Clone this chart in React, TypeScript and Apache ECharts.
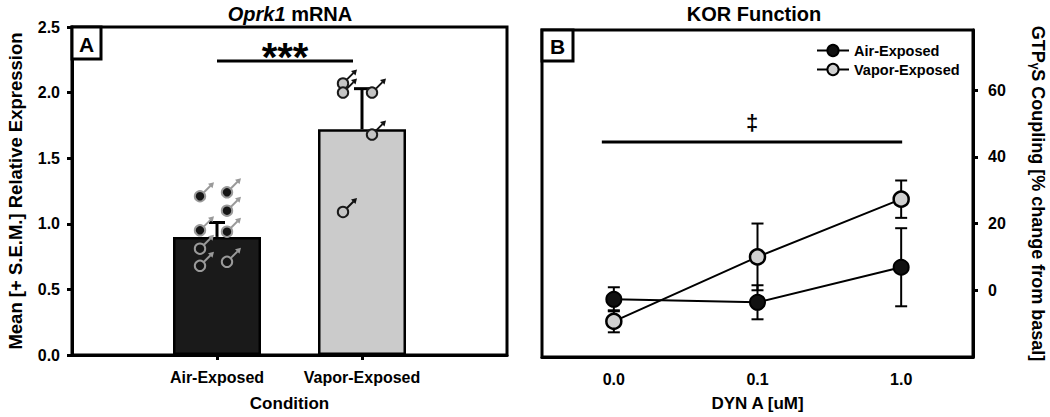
import React, { useEffect, useRef } from 'react';
import * as echarts from 'echarts';

// ---------- Panel A data ----------
const conditions = ['', 'Air-Exposed', 'Vapor-Exposed', ''];
const meanExpression = [null, 0.9, 1.72, null];
const semExpression = [null, 0.11, 0.31, null];
const airIndividual = [1.21, 1.24, 1.1, 0.95, 0.94, 0.81, 0.68, 0.71];
const vaporIndividual = [2.07, 2.0, 2.0, 1.68, 1.09];
const yTicksA = [0, 0.5, 1.0, 1.5, 2.0, 2.5];
const sigA = { from: 1, to: 2, y: 2.24, label: '***' };

// ---------- Panel B data ----------
const doses = ['0.0', '0.1', '1.0'];
const airCoupling = [-2.7, -3.6, 6.9];
const airSem = [3.6, 5.1, 11.7];
const vaporCoupling = [-9.3, 10.0, 27.3];
const vaporSem = [3.3, 10.0, 5.6];
const yTicksB = [0, 20, 40, 60];
const sigB = { from: 0, to: 2, y: 44.4, label: '\u2021' };

// ---------- layout (not data) ----------
const airJitter = [-17, 10, 10, -17, 10, -17, -17, 10];
const vaporJitter = [-19, -19, 10, 10, -19];
const FONT = 'Liberation Sans, Arial, sans-serif';

function maleSymbol(cx: number, cy: number, fill: string, stroke: string, arrow: string) {
  return {
    type: 'group',
    children: [
      { type: 'line', shape: { x1: cx + 4, y1: cy - 4, x2: cx + 10.5, y2: cy - 10.5 }, style: { stroke: arrow, lineWidth: 2 } },
      { type: 'polygon', shape: { points: [[cx + 14, cy - 14], [cx + 8, cy - 12.5], [cx + 12.5, cy - 8]] }, style: { fill: arrow } },
      { type: 'circle', shape: { cx, cy, r: 5.2 }, style: { fill, stroke, lineWidth: 2 } },
    ],
  };
}

export default function App() {
  const ref = useRef<HTMLDivElement>(null);
  useEffect(() => {
    if (!ref.current) return;
    const chart = echarts.init(ref.current, null, { renderer: 'svg' });

    const axisLineStyle = { color: '#000', width: 3 };
    const tickLabel = { color: '#000', fontSize: 16, fontWeight: 'bold' as const, fontFamily: FONT };
    const nameStyle = { color: '#000', fontSize: 17, fontWeight: 'bold' as const, fontFamily: FONT };
    const yNameStyle = { color: '#000', fontSize: 18.5, fontWeight: 'bold' as const, fontFamily: FONT };

    const errA = meanExpression
      .map((m, i) => (m == null ? null : [i, m, semExpression[i] as number]))
      .filter((d) => d) as number[][];
    const airPts = airIndividual.map((v, i) => [1, v, airJitter[i]]);
    const vapPts = vaporIndividual.map((v, i) => [2, v, vaporJitter[i]]);
    const errB = [
      ...airCoupling.map((m, i) => [i, m, airSem[i]]),
      ...vaporCoupling.map((m, i) => [i, m, vaporSem[i]]),
    ];

    const sigRender = (label: string, dx0: number, dx1: number, fontSize: number, textDy: number) => (params: any, api: any) => {
      const a = api.coord([api.value(0), api.value(2)]);
      const b = api.coord([api.value(1), api.value(2)]);
      const x1 = a[0] + dx0;
      const x2 = b[0] + dx1;
      return {
        type: 'group',
        children: [
          { type: 'line', shape: { x1, y1: a[1], x2, y2: b[1] }, style: { stroke: '#000', lineWidth: 3 } },
          {
            type: 'text',
            x: (x1 + x2) / 2,
            y: a[1] + textDy,
            style: {
              text: label,
              font: `bold ${fontSize}px ${FONT}`,
              fill: '#000',
              align: 'center',
              verticalAlign: 'middle',
              textAlign: 'center',
              textVerticalAlign: 'middle',
            },
          },
        ],
      };
    };

    const option: any = {
      animation: false,
      backgroundColor: '#fff',
      textStyle: { fontFamily: FONT },
      grid: [
        { left: 72, top: 27, width: 435, height: 329, show: true, borderColor: '#000', borderWidth: 3 },
        { left: 542, top: 30, width: 431, height: 328, show: true, borderColor: '#000', borderWidth: 3 },
      ],
      xAxis: [
        {
          gridIndex: 0,
          type: 'category',
          data: conditions,
          boundaryGap: false,
          axisLine: { onZero: false, lineStyle: axisLineStyle },
          axisTick: { inside: false, length: 5, lineStyle: { width: 3, color: '#000' }, interval: (i: number) => i === 1 || i === 2 },
          axisLabel: { ...tickLabel, margin: 14, interval: (i: number) => i === 1 || i === 2 },
          name: 'Condition',
          nameLocation: 'middle',
          nameGap: 40,
          nameTextStyle: nameStyle,
          splitLine: { show: false },
        },
        {
          gridIndex: 1,
          type: 'category',
          data: doses,
          boundaryGap: true,
          axisLine: { onZero: false, lineStyle: axisLineStyle },
          axisTick: { inside: false, length: 5, alignWithLabel: true, lineStyle: { width: 3, color: '#000' } },
          axisLabel: { ...tickLabel, margin: 14 },
          name: 'DYN A [uM]',
          nameLocation: 'middle',
          nameGap: 38,
          nameTextStyle: nameStyle,
          splitLine: { show: false },
        },
      ],
      yAxis: [
        {
          gridIndex: 0,
          type: 'value',
          min: 0,
          max: 2.5,
          interval: 0.5,
          axisLine: { show: true, lineStyle: axisLineStyle },
          axisTick: { show: true, inside: false, length: 5, lineStyle: { width: 3, color: '#000' }, customValues: yTicksA },
          axisLabel: { ...tickLabel, margin: 12, customValues: yTicksA, formatter: (v: number) => v.toFixed(1) },
          splitLine: { show: false },
          name: 'Mean [+ S.E.M.] Relative Expression',
          nameLocation: 'middle',
          nameRotate: 90,
          nameGap: 47,
          nameTextStyle: yNameStyle,
        },
        {
          gridIndex: 1,
          type: 'value',
          position: 'right',
          min: -20,
          max: 78,
          axisLine: { show: true, lineStyle: axisLineStyle },
          axisTick: { show: true, inside: false, length: 5, lineStyle: { width: 3, color: '#000' }, customValues: yTicksB },
          axisLabel: { ...tickLabel, margin: 15, customValues: yTicksB },
          splitLine: { show: false },
          name: '{a|GTP}{s|\u03b3}{a|S Coupling [% change from basal]}',
          nameLocation: 'middle',
          nameRotate: -90,
          nameGap: 56,
          nameTextStyle: {
            ...yNameStyle,
            rich: {
              a: { fontSize: 18, fontWeight: 'bold', fontFamily: FONT, color: '#000' },
              s: { fontSize: 12, fontWeight: 'bold', fontFamily: FONT, color: '#000', verticalAlign: 'bottom', padding: [6, 0, 0, 0] },
            },
          },
        },
      ],
      legend: {
        orient: 'vertical',
        left: 811,
        top: 38,
        itemWidth: 32,
        itemHeight: 14,
        itemGap: 4,
        data: ['Air-Exposed', 'Vapor-Exposed'],
        textStyle: { color: '#000', fontSize: 14.5, fontWeight: 'bold', fontFamily: FONT },
      },
      series: [
        {
          name: 'expression',
          type: 'bar',
          xAxisIndex: 0,
          yAxisIndex: 0,
          barWidth: 88,
          data: meanExpression.map((v, i) =>
            v == null
              ? null
              : {
                  value: v,
                  itemStyle: i === 1
                    ? { color: '#1a1a1a', borderColor: '#000', borderWidth: 2.5 }
                    : { color: '#cbcbcb', borderColor: '#000', borderWidth: 2.5 },
                }
          ),
          z: 2,
        },
        {
          name: 'errA',
          type: 'custom',
          xAxisIndex: 0,
          yAxisIndex: 0,
          z: 3,
          data: errA,
          renderItem: (params: any, api: any) => {
            const base = api.coord([api.value(0), api.value(1)]);
            const top = api.coord([api.value(0), api.value(1) + api.value(2)]);
            return {
              type: 'group',
              children: [
                { type: 'line', shape: { x1: base[0], y1: base[1], x2: top[0], y2: top[1] }, style: { stroke: '#000', lineWidth: 3 } },
                { type: 'line', shape: { x1: top[0] - 8, y1: top[1], x2: top[0] + 8, y2: top[1] }, style: { stroke: '#000', lineWidth: 3 } },
              ],
            };
          },
        },
        {
          name: 'airPts',
          type: 'custom',
          xAxisIndex: 0,
          yAxisIndex: 0,
          z: 4,
          data: airPts,
          renderItem: (params: any, api: any) => {
            const p = api.coord([api.value(0), api.value(1)]);
            return maleSymbol(p[0] + api.value(2), p[1], '#151515', '#9a9a9a', '#9a9a9a');
          },
        },
        {
          name: 'vapPts',
          type: 'custom',
          xAxisIndex: 0,
          yAxisIndex: 0,
          z: 4,
          data: vapPts,
          renderItem: (params: any, api: any) => {
            const p = api.coord([api.value(0), api.value(1)]);
            return maleSymbol(p[0] + api.value(2), p[1], '#c4c4c4', '#1a1a1a', '#111');
          },
        },
        {
          name: 'sigA',
          type: 'custom',
          xAxisIndex: 0,
          yAxisIndex: 0,
          z: 4,
          data: [[sigA.from, sigA.to, sigA.y]],
          renderItem: sigRender(sigA.label, 0, -9, 40, -4),
        },
        {
          name: 'errB',
          type: 'custom',
          xAxisIndex: 1,
          yAxisIndex: 1,
          z: 3,
          data: errB,
          renderItem: (params: any, api: any) => {
            const hi = api.coord([api.value(0), api.value(1) + api.value(2)]);
            const lo = api.coord([api.value(0), api.value(1) - api.value(2)]);
            return {
              type: 'group',
              children: [
                { type: 'line', shape: { x1: hi[0], y1: hi[1], x2: lo[0], y2: lo[1] }, style: { stroke: '#000', lineWidth: 2 } },
                { type: 'line', shape: { x1: hi[0] - 6, y1: hi[1], x2: hi[0] + 6, y2: hi[1] }, style: { stroke: '#000', lineWidth: 2 } },
                { type: 'line', shape: { x1: lo[0] - 6, y1: lo[1], x2: lo[0] + 6, y2: lo[1] }, style: { stroke: '#000', lineWidth: 2 } },
              ],
            };
          },
        },
        {
          name: 'sigB',
          type: 'custom',
          xAxisIndex: 1,
          yAxisIndex: 1,
          z: 4,
          data: [[sigB.from, sigB.to, sigB.y]],
          renderItem: sigRender(sigB.label, -12, 1, 22, -20),
        },
        {
          name: 'Air-Exposed',
          type: 'line',
          xAxisIndex: 1,
          yAxisIndex: 1,
          data: airCoupling,
          symbol: 'circle',
          symbolSize: 15,
          itemStyle: { color: '#111', borderColor: '#000', borderWidth: 2 },
          lineStyle: { color: '#000', width: 2 },
          z: 5,
        },
        {
          name: 'Vapor-Exposed',
          type: 'line',
          xAxisIndex: 1,
          yAxisIndex: 1,
          data: vaporCoupling,
          symbol: 'circle',
          symbolSize: 15,
          itemStyle: { color: '#d0d0d0', borderColor: '#000', borderWidth: 2.5 },
          lineStyle: { color: '#000', width: 2 },
          z: 6,
        },
      ],
      graphic: [
        {
          type: 'text',
          x: 290,
          y: 14,
          style: {
            text: '{i|Oprk1} mRNA',
            font: `bold 20px ${FONT}`,
            fill: '#000',
            align: 'center',
            verticalAlign: 'middle',
            rich: { i: { fontStyle: 'italic', fontWeight: 'bold', fontSize: 20, fontFamily: FONT } },
          },
        },
        {
          type: 'text',
          x: 754,
          y: 14,
          style: { text: 'KOR Function', font: `bold 20px ${FONT}`, fill: '#000', align: 'center', verticalAlign: 'middle' },
        },
        { type: 'rect', shape: { x: 72, y: 27, width: 29, height: 32 }, style: { fill: '#fff', stroke: '#000', lineWidth: 3 }, z: 10 },
        { type: 'text', x: 86.5, y: 44, style: { text: 'A', font: `bold 21px ${FONT}`, fill: '#000', align: 'center', verticalAlign: 'middle' }, z: 11 },
        { type: 'rect', shape: { x: 542, y: 30, width: 31, height: 31 }, style: { fill: '#fff', stroke: '#000', lineWidth: 3 }, z: 10 },
        { type: 'text', x: 557.5, y: 46, style: { text: 'B', font: `bold 21px ${FONT}`, fill: '#000', align: 'center', verticalAlign: 'middle' }, z: 11 },
      ],
    };

    chart.setOption(option);
    return () => chart.dispose();
  }, []);

  return <div ref={ref} style={{ position: 'fixed', left: 0, top: 0, width: 1050, height: 417 }} />;
}
